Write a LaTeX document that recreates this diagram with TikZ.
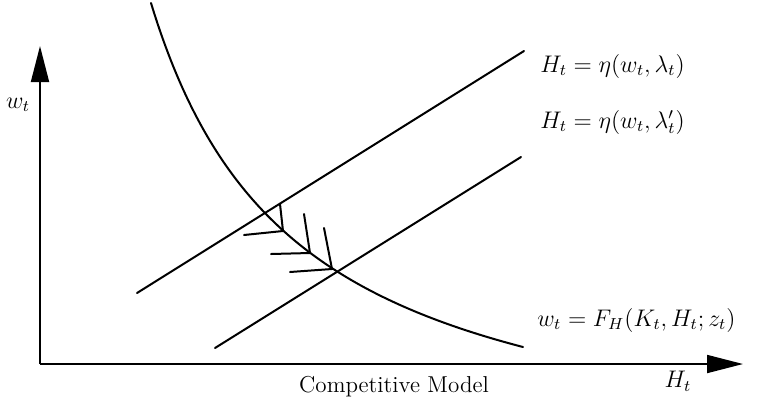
\documentclass[tikz,border=0pt]{standalone}
\usetikzlibrary{arrows.meta}
\begin{document}
\begin{tikzpicture}[x=0.5pt,y=-0.5pt,
  line/.style={line width=1pt,line cap=round},
  axis/.style={line width=0.9pt,-{Triangle[length=18pt,width=9pt]}},
  lbl/.style={font=\fontsize{11.5}{14}\selectfont,inner sep=0pt}]
\useasboundingbox (0,0) rectangle (763,408);
% axes
\coordinate (O) at (40,364);
\coordinate (Ytip) at (40,46);
\coordinate (Xtip) at (743,364);
\draw[axis] (O) -- (Ytip);
\draw[axis] (O) -- (Xtip);
% curve
\draw[line] plot[domain=151:523,samples=120,smooth] (\x,{482-699.3/((\x-5)/100)});
% lines
\coordinate (A1) at (137,293); \coordinate (A2) at (524,51);
\coordinate (B1) at (215,348); \coordinate (B2) at (521,157);
\draw[line] (A1) -- (A2);
\draw[line] (B1) -- (B2);
% feathers
\coordinate (F1) at (283,231); \coordinate (F1l) at (244,235); \coordinate (F1u) at (280,204);
\coordinate (F2) at (310,253); \coordinate (F2l) at (271,254); \coordinate (F2u) at (304,214);
\coordinate (F3) at (332,269); \coordinate (F3l) at (290,272); \coordinate (F3u) at (324,228);
\draw[line] (F1l) -- (F1) -- (F1u);
\draw[line] (F2l) -- (F2) -- (F2u);
\draw[line] (F3l) -- (F3) -- (F3u);
% labels
\node[lbl,anchor=west] (l1) at (540,66) {$H_t = \eta(w_t, \lambda_t)$};
\node[lbl,anchor=west] (l2) at (540,122) {$H_t = \eta(w_t, \lambda_t')$};
\node[lbl,anchor=west] (l3) at (537,320) {$w_t = F_H(K_t, H_t; z_t)$};
\node[lbl] (hx) at (678,381) {$H_t$};
\node[lbl] (wy) at (18,105) {$w_t$};
\node[lbl] (cap) at (394,387) {Competitive Model};
\end{tikzpicture}
\end{document}
